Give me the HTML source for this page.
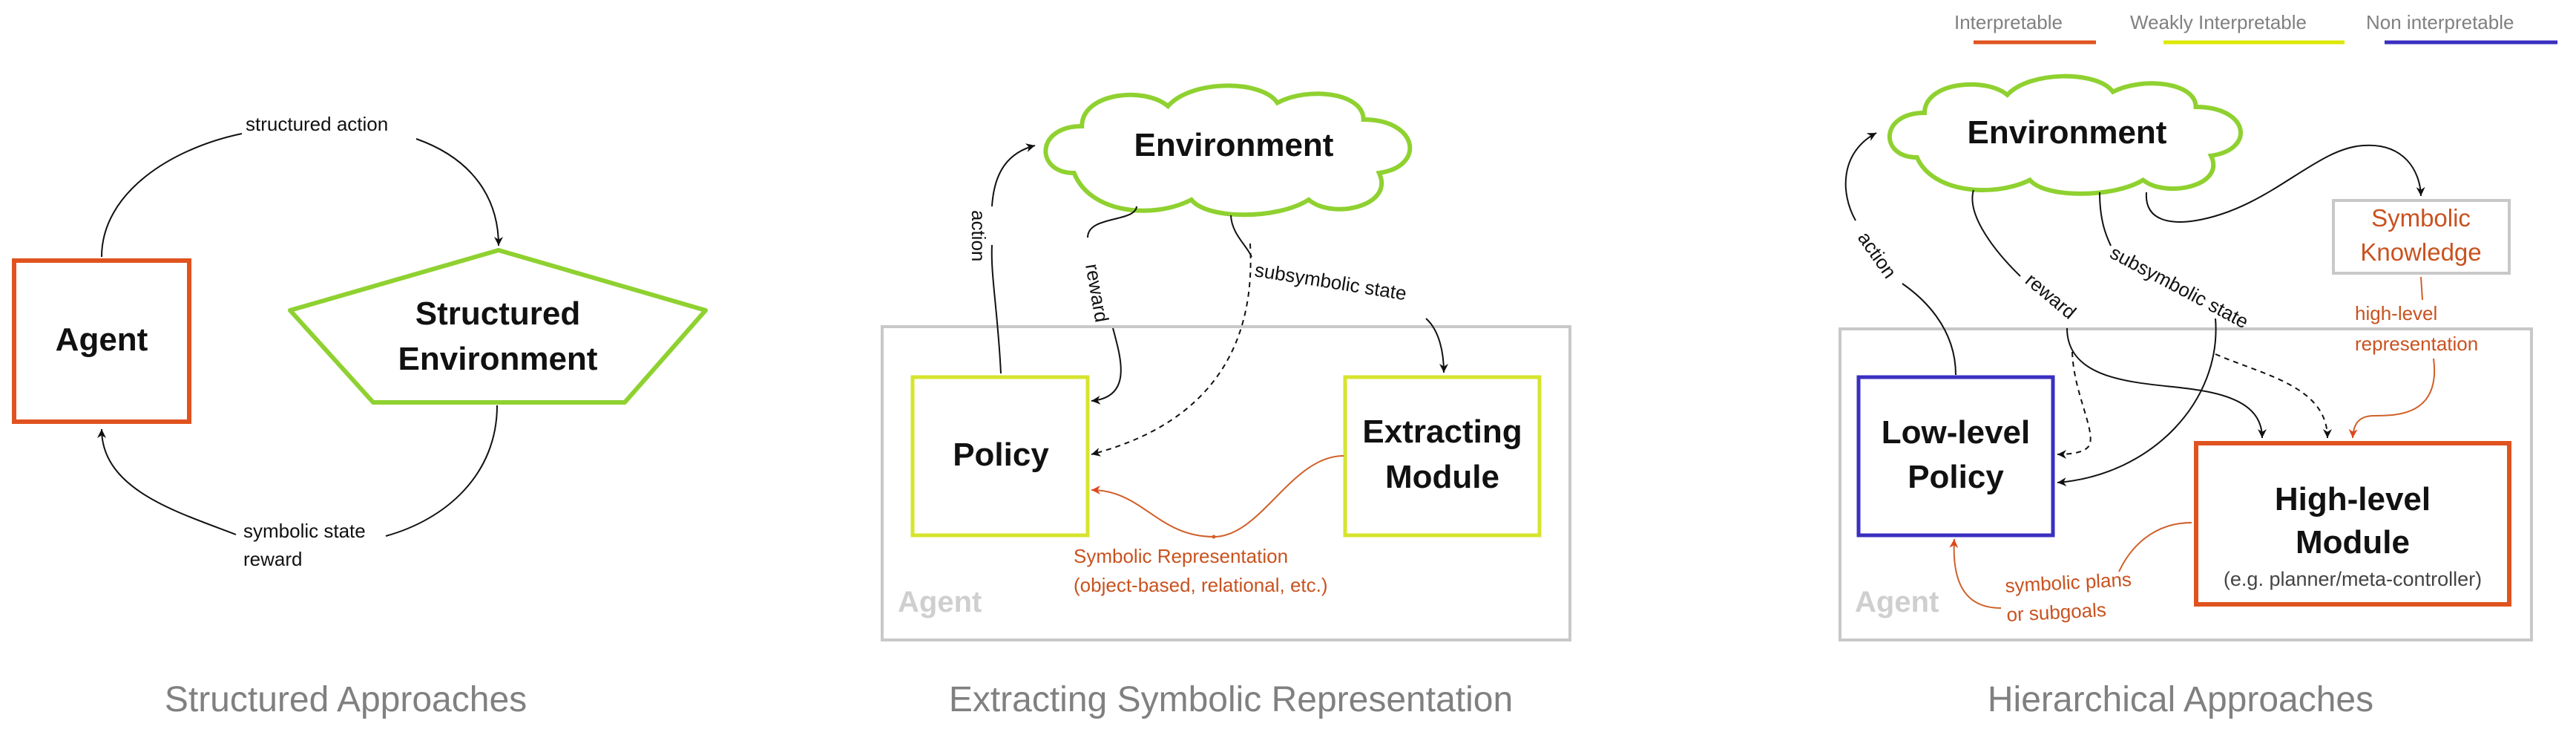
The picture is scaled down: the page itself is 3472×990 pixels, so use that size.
<!DOCTYPE html>
<html><head><meta charset="utf-8"><style>
html,body{margin:0;padding:0;background:#fff;}
svg{display:block;}
text{font-family:"Liberation Sans",sans-serif;}
.b{font-weight:bold;fill:#111;font-size:44px;text-anchor:middle;}
.l{font-size:26px;fill:#111;}
.o{font-size:26px;fill:#c9521f;}
.t{font-size:48px;fill:#808080;text-anchor:middle;}
.ag{font-size:40px;font-weight:bold;fill:#cfcfcf;}
.c{fill:none;stroke:#111;stroke-width:2;}
.co{fill:none;stroke:#d0602a;stroke-width:2;}
.d{fill:none;stroke:#111;stroke-width:2;stroke-dasharray:7 6;}
</style></head><body>
<svg width="3472" height="990" viewBox="0 0 3472 990" xmlns="http://www.w3.org/2000/svg">
<defs>
<marker id="a" markerWidth="12" markerHeight="12" refX="10" refY="5" orient="auto" markerUnits="userSpaceOnUse" viewBox="0 0 10 10"><path d="M0 0L10 5L0 10L3 5Z" fill="#111"/></marker>
<marker id="ao" markerWidth="12" markerHeight="12" refX="10" refY="5" orient="auto" markerUnits="userSpaceOnUse" viewBox="0 0 10 10"><path d="M0 0L10 5L0 10L3 5Z" fill="#e0461c"/></marker>
</defs>

<!-- Panel 1 -->
<rect x="19" y="351" width="236" height="217" fill="none" stroke="#e0531f" stroke-width="6"/>
<text class="b" x="137" y="472">Agent</text>
<polygon points="672,337 391,418 503,542 842,542 951,418" fill="none" stroke="#8fd130" stroke-width="6" stroke-linejoin="round"/>
<text class="b" x="671" y="437">Structured</text>
<text class="b" x="671" y="498">Environment</text>
<path class="c" d="M137 346 C 137 260, 230 200, 326 180"/>
<text class="l" x="331" y="176">structured action</text>
<path class="c" d="M561 187 C 640 215, 672 270, 672 331" marker-end="url(#a)"/>
<path class="c" d="M670 546 C 670 640, 600 700, 520 722"/>
<text class="l" x="328" y="724">symbolic state</text>
<text class="l" x="328" y="762">reward</text>
<path class="c" d="M318 720 C 240 690, 137 660, 137 578" marker-end="url(#a)"/>
<text class="t" x="466" y="958">Structured Approaches</text>

<!-- Panel 2 -->
<path d="M1447.7 233 C 1395 233, 1395 170, 1458.2 170 C 1458.2 125, 1542.6 116, 1574.2 143 C 1605.8 107, 1700.7 107, 1721.7 138.5 C 1763.9 116, 1837.7 125, 1837.7 161 C 1911.5 161, 1922 224, 1858.8 233 C 1879.9 278, 1795.5 296, 1763.9 269 C 1721.7 296, 1626.8 296, 1605.8 269 C 1553.1 296, 1468.8 287, 1447.7 233 Z" fill="#fff" stroke="#8fd130" stroke-width="6"/>
<text class="b" x="1663" y="210">Environment</text>
<rect x="1189" y="440" width="927" height="422" fill="none" stroke="#c8c8c8" stroke-width="4"/>
<text class="ag" x="1210" y="824">Agent</text>
<rect x="1230" y="508" width="236" height="213" fill="none" stroke="#d6e42e" stroke-width="5"/>
<text class="b" x="1349" y="627">Policy</text>
<rect x="1813" y="508" width="262" height="213" fill="none" stroke="#d6e42e" stroke-width="5"/>
<text class="b" x="1944" y="596">Extracting</text>
<text class="b" x="1944" y="657">Module</text>
<path class="c" d="M1349 503 C 1345 420, 1335 370, 1337 330"/>
<text class="l" transform="translate(1310,283) rotate(90)">action</text>
<path class="c" d="M1337 278 C 1340 230, 1360 205, 1395 196" marker-end="url(#a)"/>
<path class="c" d="M1532 278 C 1530 300, 1466 290, 1466 320"/>
<text class="l" transform="translate(1463,357) rotate(80)">reward</text>
<path class="c" d="M1500 442 C 1510 480, 1528 535, 1471 540" marker-end="url(#a)"/>
<path class="d" d="M1685 328 C 1690 420, 1670 560, 1471 612" marker-end="url(#a)"/>
<path class="c" d="M1659 290 C 1660 315, 1680 330, 1687 346"/>
<text class="l" transform="translate(1690,372) rotate(9)">subsymbolic state</text>
<path class="c" d="M1922 429 C 1940 445, 1946 475, 1946 502" marker-end="url(#a)"/>
<path class="co" d="M1811 614 C 1740 614, 1700 723, 1636 723 C 1560 723, 1540 660, 1471 660" marker-end="url(#ao)"/>
<circle cx="1636" cy="723" r="2.5" fill="#d0602a"/>
<text class="o" x="1447" y="758">Symbolic Representation</text>
<text class="o" x="1447" y="797">(object-based, relational, etc.)</text>
<text class="t" x="1659" y="958">Extracting Symbolic Representation</text>

<!-- Panel 3 legend -->
<text x="2634" y="39" font-size="26" fill="#808080">Interpretable</text>
<line x1="2660" y1="57" x2="2825" y2="57" stroke="#e0531f" stroke-width="5"/>
<text x="2871" y="39" font-size="26" fill="#808080">Weakly Interpretable</text>
<line x1="2916" y1="57" x2="3160" y2="57" stroke="#dde800" stroke-width="5"/>
<text x="3189" y="39" font-size="26" fill="#808080">Non interpretable</text>
<line x1="3214" y1="57" x2="3447" y2="57" stroke="#3a2fc0" stroke-width="5"/>

<path d="M2583.8 212 C 2533 212, 2533 152, 2594 152 C 2594 111, 2675 103, 2705.5 127.8 C 2736 95, 2827.5 95, 2847.8 123.7 C 2888.5 103, 2959.6 111, 2959.6 144 C 3030.8 144, 3041 201, 2980 209.8 C 3000.3 250.8, 2919 267, 2888.5 242.5 C 2847.8 267, 2756.3 267, 2736 242.5 C 2685.2 267, 2604 259, 2583.8 212 Z" fill="#fff" stroke="#8fd130" stroke-width="6"/>
<text class="b" x="2786" y="193">Environment</text>
<rect x="2480" y="443" width="932" height="419" fill="none" stroke="#c8c8c8" stroke-width="4"/>
<text class="ag" x="2500" y="824">Agent</text>
<rect x="2505" y="508" width="262" height="213" fill="none" stroke="#3a2fc0" stroke-width="5"/>
<text class="b" x="2636" y="597">Low-level</text>
<text class="b" x="2636" y="657">Policy</text>
<rect x="2960" y="597" width="422" height="217" fill="none" stroke="#e0531f" stroke-width="6"/>
<text class="b" x="3171" y="687">High-level</text>
<text class="b" x="3171" y="745">Module</text>
<text x="3171" y="789" font-size="27" fill="#444" text-anchor="middle">(e.g. planner/meta-controller)</text>
<rect x="3145" y="270" width="237" height="98" fill="none" stroke="#c8c8c8" stroke-width="4"/>
<text x="3263" y="305" font-size="33" fill="#c9521f" text-anchor="middle">Symbolic</text>
<text x="3263" y="351" font-size="33" fill="#c9521f" text-anchor="middle">Knowledge</text>
<path class="co" d="M3263 373 L3265 404"/>
<text class="o" x="3174" y="431">high-level</text>
<text class="o" x="3174" y="472">representation</text>
<path class="co" d="M3280 483 C 3290 560, 3230 560, 3200 560 C 3180 560, 3172 570, 3171 590" marker-end="url(#ao)"/>
<path class="c" d="M2636 505 C 2636 440, 2590 400, 2564 382"/>
<text class="l" transform="translate(2503,320) rotate(55)">action</text>
<path class="c" d="M2501 297 C 2480 260, 2480 205, 2529 179" marker-end="url(#a)"/>
<path class="c" d="M2660 256 C 2650 290, 2690 340, 2723 372"/>
<text class="l" transform="translate(2728,380) rotate(40)">reward</text>
<path class="c" d="M2786 442 C 2786 520, 2900 515, 2960 525 C 3030 535, 3049 560, 3049 590" marker-end="url(#a)"/>
<path class="c" d="M2830 259 C 2830 300, 2840 320, 2845 331"/>
<text class="l" transform="translate(2842,346) rotate(28)">subsymbolic state</text>
<path class="c" d="M2986 429 C 2995 540, 2900 640, 2773 650" marker-end="url(#a)"/>
<path class="d" d="M2793 474 C 2795 530, 2825 580, 2816 600 C 2810 610, 2790 612, 2773 612" marker-end="url(#a)"/>
<path class="d" d="M2986 477 C 3050 505, 3137 520, 3137 590" marker-end="url(#a)"/>
<path class="c" d="M2893 259 C 2890 300, 2930 302, 2960 297 C 3060 280, 3120 200, 3185 196 C 3240 192, 3262 230, 3263 264" marker-end="url(#a)"/>
<path class="co" d="M2954 704 C 2900 704, 2870 740, 2856 770"/>
<text class="o" transform="translate(2703,798) rotate(-3)">symbolic plans</text>
<text class="o" transform="translate(2705,837) rotate(-3)">or subgoals</text>
<path class="co" d="M2697 819 C 2660 819, 2630 800, 2634 726" marker-end="url(#ao)"/>
<text class="t" x="2939" y="958">Hierarchical Approaches</text>
</svg>
</body></html>
